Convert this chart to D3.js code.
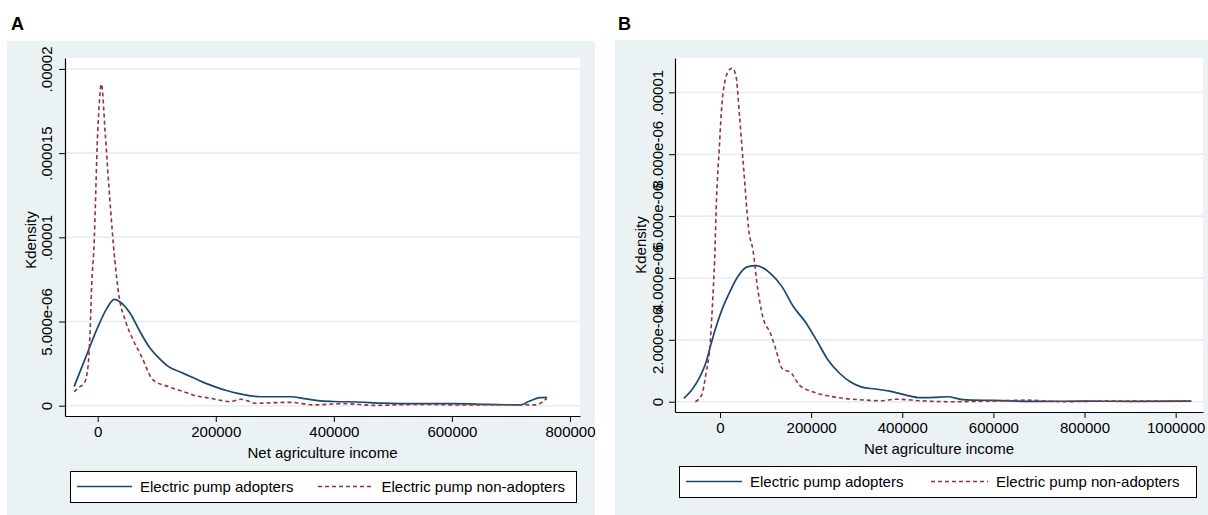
<!DOCTYPE html>
<html>
<head>
<meta charset="utf-8">
<script src="https://cdn.jsdelivr.net/npm/d3@7/dist/d3.min.js"></script>
<style>
  html, body { margin: 0; padding: 0; background: #ffffff; }
  svg { display: block; }
  text { font-family: "Liberation Sans", Arial, Helvetica, sans-serif; fill: #000; }
</style>
</head>
<body>
<svg id="chart" width="1208" height="515"></svg>
<script>
// ---------- DATA ----------
const panelTitles = ["A", "B"];
const xAxisTitle = "Net agriculture income";
const yAxisTitle = "Kdensity";
const seriesNames = ["Electric pump adopters", "Electric pump non-adopters"];

// Panel A
const aXTicks = [0, 200000, 400000, 600000, 800000];
const aXTickLabels = ["0", "200000", "400000", "600000", "800000"];
const aYTicks = [0, 5e-6, 1e-5, 1.5e-5, 2e-5];
const aYTickLabels = ["0", "5.000e-06", ".00001", ".000015", ".00002"];

const aAdoptersIncome = [-40000, -20000, 0, 15000, 28000, 42000, 55000, 70000, 87000, 103000, 120000, 140000, 158000, 178000, 198000, 218000, 237000, 256000, 276000, 300000, 328000, 350000, 373000, 400000, 440000, 483000, 540000, 600000, 660000, 716000, 730000, 749000, 761000];
const aAdoptersDensity = [1.13e-6, 2.9e-6, 4.65e-6, 5.75e-6, 6.32e-6, 6.05e-6, 5.49e-6, 4.5e-6, 3.5e-6, 2.85e-6, 2.32e-6, 2.0e-6, 1.72e-6, 1.4e-6, 1.13e-6, 0.9e-6, 0.73e-6, 0.6e-6, 0.53e-6, 0.53e-6, 0.53e-6, 0.42e-6, 0.3e-6, 0.25e-6, 0.22e-6, 0.15e-6, 0.12e-6, 0.12e-6, 0.08e-6, 0.05e-6, 0.25e-6, 0.48e-6, 0.5e-6];

const aNonAdoptersIncome = [-40000, -30000, -23000, -16500, -13000, -10000, -6600, 0, 6300, 12700, 20000, 29000, 35400, 48400, 60000, 74400, 93700, 120000, 145700, 165000, 191000, 210000, 223000, 243000, 269000, 300000, 327000, 366000, 418000, 470000, 548000, 612000, 680000, 742000, 761000];
const aNonAdoptersDensity = [0.83e-6, 1.13e-6, 1.33e-6, 2.3e-6, 4.3e-6, 7.3e-6, 9.2e-6, 16.2e-6, 19.1e-6, 16.2e-6, 12.5e-6, 8.65e-6, 6.68e-6, 4.9e-6, 3.9e-6, 2.91e-6, 1.53e-6, 1.13e-6, 0.83e-6, 0.6e-6, 0.44e-6, 0.3e-6, 0.24e-6, 0.38e-6, 0.14e-6, 0.18e-6, 0.2e-6, 0.05e-6, 0.12e-6, 0.02e-6, 0.08e-6, 0.04e-6, 0.06e-6, 0.05e-6, 0.45e-6];

// Panel B
const bXTicks = [0, 200000, 400000, 600000, 800000, 1000000];
const bXTickLabels = ["0", "200000", "400000", "600000", "800000", "1000000"];
const bYTicks = [0, 2e-6, 4e-6, 6e-6, 8e-6, 1e-5];
const bYTickLabels = ["0", "2.000e-06", "4.000e-06", "6.000e-06", "8.000e-06", ".00001"];

const bAdoptersIncome = [-79400, -62000, -45000, -30000, -20000, -8000, 5000, 20000, 38800, 59900, 80000, 110600, 136000, 161300, 186600, 211800, 237000, 262400, 287500, 310000, 340000, 372200, 406000, 439800, 470000, 498800, 532600, 600000, 700000, 800000, 900000, 1034700];
const bAdoptersDensity = [0.11e-6, 0.38e-6, 0.78e-6, 1.3e-6, 1.85e-6, 2.45e-6, 3.0e-6, 3.5e-6, 4.04e-6, 4.36e-6, 4.4e-6, 4.15e-6, 3.72e-6, 3.07e-6, 2.59e-6, 1.99e-6, 1.35e-6, 0.92e-6, 0.63e-6, 0.48e-6, 0.41e-6, 0.34e-6, 0.22e-6, 0.13e-6, 0.14e-6, 0.16e-6, 0.07e-6, 0.04e-6, 0.01e-6, 0.02e-6, 0.01e-6, 0.02e-6];

const bNonAdoptersIncome = [-54000, -40200, -30700, -21900, -16000, -11800, -7700, -1800, 5000, 17600, 26300, 34700, 43000, 51600, 64100, 72400, 81100, 93700, 110600, 123000, 136000, 157000, 173800, 203400, 237000, 271000, 321500, 350000, 388000, 440000, 507000, 600000, 676000, 750000, 850000, 1030500];
const bNonAdoptersDensity = [0.0, 0.22e-6, 0.92e-6, 1.83e-6, 3.29e-6, 4.58e-6, 6.52e-6, 8.14e-6, 9.75e-6, 10.67e-6, 10.78e-6, 10.56e-6, 9.21e-6, 7.6e-6, 5.44e-6, 4.9e-6, 3.83e-6, 2.75e-6, 2.21e-6, 1.67e-6, 1.08e-6, 0.92e-6, 0.54e-6, 0.32e-6, 0.19e-6, 0.11e-6, 0.05e-6, 0.03e-6, 0.08e-6, 0.03e-6, 0.0, 0.02e-6, 0.05e-6, 0.0, 0.02e-6, 0.02e-6];

// ---------- STYLE ----------
const COLORS = { bg: "#eaf2f3", grid: "#e6eef0", adopt: "#1a476f", non: "#90353b" };
const FONT = 15;

const svg = d3.select("#chart");

function zip(xs, ys) { return xs.map((x, i) => ({ x: x, y: ys[i] })); }

function drawPanel(o) {
  const g = svg.append("g");
  g.append("rect").attr("x", o.outer[0]).attr("y", o.outer[1])
    .attr("width", o.outer[2] - o.outer[0]).attr("height", o.outer[3] - o.outer[1])
    .attr("fill", COLORS.bg);
  g.append("text").attr("x", o.letterX).attr("y", 30)
    .attr("font-size", 18).attr("font-weight", "bold").text(o.letter);

  const x = d3.scaleLinear().domain(o.xDomain).range([o.plot[0], o.plot[2]]);
  const y = d3.scaleLinear().domain(o.yDomain).range([o.plot[3], o.plot[1]]);

  g.append("rect").attr("x", o.plot[0]).attr("y", o.plot[1])
    .attr("width", o.plot[2] - o.plot[0]).attr("height", o.plot[3] - o.plot[1])
    .attr("fill", "#fff");

  g.append("g").selectAll("line").data(o.yTicks).join("line")
    .attr("x1", o.plot[0]).attr("x2", o.plot[2])
    .attr("y1", d => y(d)).attr("y2", d => y(d))
    .attr("stroke", COLORS.grid).attr("stroke-width", 1.6);

  const line = d3.line().x(d => x(d.x)).y(d => y(d.y)).curve(d3.curveMonotoneX);
  g.append("path").datum(zip(o.s1x, o.s1y)).attr("d", line)
    .attr("fill", "none").attr("stroke", COLORS.adopt).attr("stroke-width", 1.7);
  g.append("path").datum(zip(o.s2x, o.s2y)).attr("d", line)
    .attr("fill", "none").attr("stroke", COLORS.non).attr("stroke-width", 1.6)
    .attr("stroke-dasharray", "4,3");

  const xAxis = d3.axisBottom(x).tickValues(o.xTicks)
    .tickFormat((d, i) => o.xTickLabels[i]).tickSize(6).tickSizeOuter(0).tickPadding(4);
  const xg = g.append("g").attr("transform", `translate(0,${o.plot[3]})`).call(xAxis);
  xg.select(".domain").attr("stroke", "#000").attr("stroke-width", 1.2);
  xg.selectAll(".tick line").attr("stroke", "#000").attr("stroke-width", 1);
  xg.selectAll(".tick text").attr("font-size", FONT)
    .attr("font-family", '"Liberation Sans", Arial, sans-serif').attr("fill", "#000");

  const yAxis = d3.axisLeft(y).tickValues(o.yTicks)
    .tickFormat((d, i) => o.yTickLabels[i]).tickSize(6).tickSizeOuter(0);
  const yg = g.append("g").attr("transform", `translate(${o.plot[0]},0)`).call(yAxis);
  yg.select(".domain").attr("stroke", "#000").attr("stroke-width", 1.2);
  yg.selectAll(".tick line").attr("stroke", "#000").attr("stroke-width", 1);
  yg.selectAll(".tick text")
    .attr("font-size", FONT).attr("font-family", '"Liberation Sans", Arial, sans-serif')
    .attr("fill", "#000")
    .attr("x", null).attr("dy", null)
    .attr("text-anchor", "middle")
    .attr("transform", `translate(${o.yLabelBase - o.plot[0]},0) rotate(-90)`);

  g.append("text").attr("x", (o.plot[0] + o.plot[2]) / 2 + o.xTitleDx).attr("y", o.xTitleY)
    .attr("text-anchor", "middle").attr("font-size", FONT).text(xAxisTitle);
  g.append("text").attr("transform", `translate(${o.yTitleX},${o.yTitleY}) rotate(-90)`)
    .attr("text-anchor", "middle").attr("font-size", FONT).text(yAxisTitle);

  const L = o.legend;
  g.append("rect").attr("x", L[0] + 0.5).attr("y", L[1] + 0.5)
    .attr("width", L[2] - L[0]).attr("height", L[3] - L[1])
    .attr("fill", "#fff").attr("stroke", "#000").attr("stroke-width", 1);
  const ly = (L[1] + L[3]) / 2;
  g.append("line").attr("x1", o.leg1[0]).attr("x2", o.leg1[1]).attr("y1", ly).attr("y2", ly)
    .attr("stroke", COLORS.adopt).attr("stroke-width", 1.7);
  g.append("text").attr("x", o.leg1[2]).attr("y", ly + 5.5).attr("font-size", FONT).text(seriesNames[0]);
  g.append("line").attr("x1", o.leg2[0]).attr("x2", o.leg2[1]).attr("y1", ly).attr("y2", ly)
    .attr("stroke", COLORS.non).attr("stroke-width", 1.6).attr("stroke-dasharray", "4,3");
  g.append("text").attr("x", o.leg2[2]).attr("y", ly + 5.5).attr("font-size", FONT).text(seriesNames[1]);
}

drawPanel({
  letter: panelTitles[0], letterX: 11,
  outer: [7, 41, 595, 515],
  plot: [65, 58, 580, 416],
  xDomain: [-55390, 816950], yDomain: [-0.612e-6, 20.65e-6],
  xTicks: aXTicks, xTickLabels: aXTickLabels,
  yTicks: aYTicks, yTickLabels: aYTickLabels,
  s1x: aAdoptersIncome, s1y: aAdoptersDensity,
  s2x: aNonAdoptersIncome, s2y: aNonAdoptersDensity,
  yLabelBase: 52, yTitleX: 35.5, yTitleY: 240,
  xTitleDx: 0, xTitleY: 458,
  legend: [70, 471, 576, 502],
  leg1: [77, 132, 140], leg2: [318, 373, 381.5]
});

drawPanel({
  letter: panelTitles[1], letterX: 618,
  outer: [615, 40, 1208, 515],
  plot: [675, 58, 1203, 412],
  xDomain: [-98750, 1060000], yDomain: [-0.333e-6, 11.11e-6],
  xTicks: bXTicks, xTickLabels: bXTickLabels,
  yTicks: bYTicks, yTickLabels: bYTickLabels,
  s1x: bAdoptersIncome, s1y: bAdoptersDensity,
  s2x: bNonAdoptersIncome, s2y: bNonAdoptersDensity,
  yLabelBase: 663, yTitleX: 646, yTitleY: 245,
  xTitleDx: 0, xTitleY: 454,
  legend: [679, 466, 1196, 497],
  leg1: [686, 742, 750], leg2: [931, 988, 996]
});
</script>
</body>
</html>
